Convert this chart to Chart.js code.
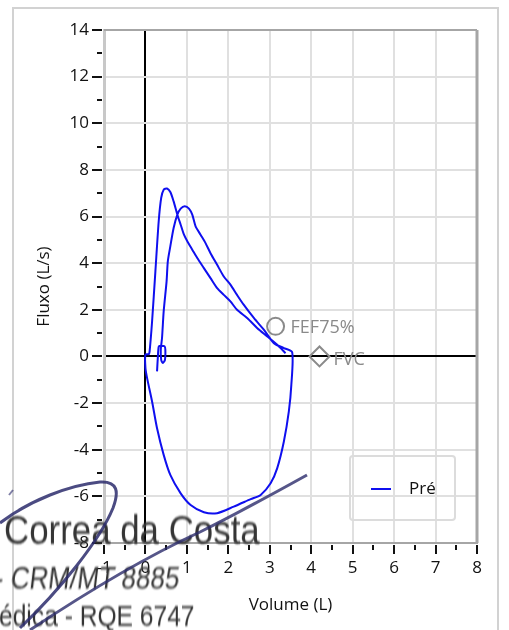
<!DOCTYPE html>
<html>
<head>
<meta charset="utf-8">
<script src="https://cdn.jsdelivr.net/npm/chart.js@4.4.1/dist/chart.umd.min.js"></script>
<style>
  html, body { margin: 0; padding: 0; background: #fff; overflow: hidden; }
  #wrap { position: relative; width: 509px; height: 630px; }
  #frame { position: absolute; left: 12px; top: 7px; width: 487px; height: 640px; border: 2px solid #d2d2d2; box-sizing: border-box; }
  #grafico { position: absolute; left: 0; top: 0; }
  #legenda { position: absolute; left: 349px; top: 455px; width: 107px; height: 66px; border: 2px solid #dcdcdc; border-radius: 4px; box-sizing: border-box; }
  #legenda .amostra { position: absolute; left: 20px; top: 31px; width: 20px; height: 2px; background: #0f0fef; }
  #legenda .rotulo { position: absolute; left: 58px; top: 19px; font: 17px "Open Sans"; color: #111; }
  .carimbo { position: absolute; white-space: nowrap; color: #353535; font-family: "Liberation Sans"; filter: blur(0.8px); transform-origin: left top; }
  #assinatura { position: absolute; left: 0; top: 0; filter: blur(0.6px); }
</style>
</head>
<body>
<div id="wrap">
  <div id="frame"></div>
  <canvas id="grafico" width="509" height="630"></canvas>
  <div id="legenda"><div class="amostra"></div><div class="rotulo">Pré</div></div>
  <!-- carimbo / assinatura sobreposto ao gráfico -->
  <div class="carimbo" style="left:4px; top:507px; font-size:41px; transform:scaleX(0.85);">Correa da Costa</div>
  <div class="carimbo" style="left:-3px; top:561px; font-size:31px; transform:scaleX(0.84) skewX(-8deg);">- CRM/MT 8885</div>
  <div class="carimbo" style="left:-1px; top:599px; font-size:30px; transform:scaleX(0.82);">édica - RQE 6747</div>
  <svg id="assinatura" width="509" height="630">
    <path d="M 0 523 C 30 500, 70 485, 100 482 C 118 481, 119 492, 113 508 C 100 540, 60 590, 20 628" fill="none" stroke="#2c2c6c" stroke-opacity="0.85" stroke-width="3"/>
    <path d="M 30 630 C 90 590, 150 555, 200 532 C 240 512, 280 490, 307 475" fill="none" stroke="#2c2c6c" stroke-opacity="0.8" stroke-width="3"/>
    <path d="M 9 495 L 13 490" fill="none" stroke="#2c2c6c" stroke-opacity="0.6" stroke-width="2"/>
  </svg>
</div>
<script>
// Curva fluxo-volume (Pré) - volume (L) e fluxo (L/s), na ordem do traçado
const volumeL = [
  0.28, 0.30, 0.32, 0.36, 0.46, 0.48, 0.47, 0.42, 0.38, 0.37,
  0.40, 0.44, 0.51, 0.54, 0.60, 0.68, 0.77, 0.85, 0.95, 1.05, 1.13, 1.21, 1.33, 1.45, 1.57, 1.73, 1.89, 2.05, 2.21, 2.37, 2.62, 2.86, 3.10, 3.34, 3.54,
  3.52, 3.46, 3.34, 3.18, 3.02, 2.78, 2.54, 2.13, 1.73, 1.41, 1.09, 0.85, 0.60, 0.44, 0.28, 0.16, 0.04, 0.00, 0.00, 0.08,
  0.10, 0.16, 0.24, 0.32, 0.38, 0.44, 0.52, 0.60, 0.68, 0.77, 0.85, 0.93, 1.01, 1.13, 1.25, 1.41, 1.57, 1.73, 1.89, 2.05, 2.21, 2.46, 2.70, 2.94, 3.18, 3.38
];
const fluxoLs = [
  -0.64, 0.00, 0.42, 0.46, 0.44, 0.30, -0.15, -0.28, -0.15, 0.30,
  0.79, 1.93, 3.22, 4.08, 4.72, 5.51, 6.08, 6.34, 6.44, 6.34, 6.08, 5.58, 5.22, 4.86, 4.43, 3.93, 3.43, 3.08, 2.64, 2.22, 1.64, 1.14, 0.57, 0.36, 0.18,
  -1.22, -2.36, -3.65, -4.79, -5.44, -5.94, -6.12, -6.44, -6.72, -6.68, -6.37, -5.87, -5.08, -4.22, -3.08, -1.93, -0.93, -0.50, 0.08, 0.10,
  0.21, 1.50, 3.65, 5.80, 6.80, 7.15, 7.20, 7.05, 6.65, 6.08, 5.65, 5.22, 4.94, 4.58, 4.22, 3.79, 3.36, 2.93, 2.64, 2.36, 2.00, 1.64, 1.21, 0.86, 0.50, 0.14
];

// Marcadores de referência [volume, fluxo]
const fef75Ponto = [3.14, 1.29];
const fvcPonto = [4.2, 0];

// Limites dos eixos
const xMin = -1, xMax = 8;
const yMin = -8, yMax = 14;

const fonte = '"Open Sans", "Noto Sans", sans-serif';

// Desenha tiques (maiores e menores), bordas do quadro e rótulos dos marcadores
const extras = {
  id: 'extras',
  afterDraw(chart) {
    const { ctx, chartArea: a, scales: { x, y } } = chart;
    ctx.save();
    // borda superior e direita
    ctx.strokeStyle = '#a6a6a6';
    ctx.lineWidth = 2;
    ctx.beginPath();
    ctx.moveTo(a.left, a.top); ctx.lineTo(a.right, a.top);
    ctx.stroke();
    ctx.lineWidth = 3;
    ctx.beginPath();
    ctx.moveTo(a.right, a.top); ctx.lineTo(a.right, a.bottom);
    ctx.stroke();

    // tiques
    ctx.strokeStyle = '#111';
    ctx.lineWidth = 2;
    for (let v = yMin; v <= yMax; v++) {
      const py = Math.round(y.getPixelForValue(v));
      const len = v % 2 === 0 ? 10 : 5;
      ctx.beginPath();
      ctx.moveTo(a.left - 2 - len, py); ctx.lineTo(a.left - 2, py);
      ctx.stroke();
    }
    for (let v = xMin; v <= xMax; v += 0.5) {
      const px = Math.round(x.getPixelForValue(v));
      const len = Number.isInteger(v) ? 9 : 5;
      ctx.beginPath();
      ctx.moveTo(px, a.bottom + 2); ctx.lineTo(px, a.bottom + 2 + len);
      ctx.stroke();
    }

    // rótulos dos marcadores
    ctx.fillStyle = '#8a8a8a';
    ctx.font = '18px ' + fonte;
    ctx.textBaseline = 'middle';
    ctx.fillText('FEF75%', x.getPixelForValue(fef75Ponto[0]) + 15, y.getPixelForValue(fef75Ponto[1]) + 2);
    ctx.fillText('FVC', x.getPixelForValue(fvcPonto[0]) + 14, y.getPixelForValue(fvcPonto[1]) + 3);
    ctx.restore();
  }
};

const corGrade = ctx => ctx.tick.value === 0 ? '#000' : '#e0e0e0';

new Chart(document.getElementById('grafico'), {
  type: 'scatter',
  data: {
    datasets: [
      {
        label: 'Pré',
        data: volumeL.map((v, i) => ({ x: v, y: fluxoLs[i] })),
        showLine: true,
        borderColor: '#0f0fef',
        borderWidth: 2,
        pointRadius: 0,
        tension: 0.25
      },
      {
        label: 'FEF75%',
        data: [{ x: fef75Ponto[0], y: fef75Ponto[1] }],
        pointStyle: 'circle',
        pointRadius: 8.5,
        borderColor: '#8a8a8a',
        borderWidth: 2,
        backgroundColor: 'rgba(0,0,0,0)'
      },
      {
        label: 'FVC',
        data: [{ x: fvcPonto[0], y: fvcPonto[1] }],
        pointStyle: 'rectRot',
        pointRadius: 10,
        borderColor: '#8a8a8a',
        borderWidth: 2,
        backgroundColor: 'rgba(0,0,0,0)'
      }
    ]
  },
  options: {
    responsive: false,
    animation: false,
    events: [],
    layout: { padding: { top: 30, right: 32, left: 0, bottom: 0 } },
    plugins: { legend: { display: false }, tooltip: { enabled: false } },
    scales: {
      x: {
        type: 'linear',
        min: xMin,
        max: xMax,
        afterFit: s => { s.height = 87; },
        ticks: { stepSize: 1, padding: 15, color: '#111', font: { family: fonte, size: 17 } },
        grid: { color: corGrade, lineWidth: 2, drawTicks: false },
        border: { color: '#a6a6a6', width: 2 },
        title: { display: true, text: 'Volume (L)', color: '#111', font: { family: fonte, size: 17 }, padding: { top: 0, bottom: 15 } }
      },
      y: {
        type: 'linear',
        min: yMin,
        max: yMax,
        afterFit: s => { s.width = 104; },
        ticks: { stepSize: 2, padding: 15, color: '#111', font: { family: fonte, size: 17 } },
        grid: { color: corGrade, lineWidth: 2, drawTicks: false },
        border: { color: '#c8c8c8', width: 3 },
        title: { display: true, text: 'Fluxo (L/s)', color: '#111', font: { family: fonte, size: 17 }, padding: { top: 34, bottom: 0 } }
      }
    }
  },
  plugins: [extras]
});
</script>
</body>
</html>
